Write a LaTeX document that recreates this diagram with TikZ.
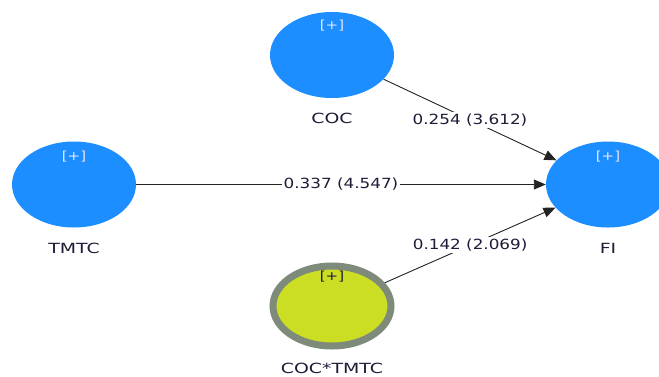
\documentclass[tikz,border=0pt]{standalone}
\usepackage{fontspec}
\setmainfont{DejaVu Sans}
\newfontfamily\lblfont[FakeStretch=1.2]{DejaVu Sans}
\newfontfamily\namefont[FakeStretch=1.35]{DejaVu Sans}
\usetikzlibrary{shapes.geometric,arrows.meta}
\definecolor{lvblue}{RGB}{28,142,255}
\definecolor{lvyellow}{RGB}{204,222,36}
\definecolor{lvring}{RGB}{126,138,122}
\definecolor{lvtext}{RGB}{30,28,55}
\definecolor{lvline}{RGB}{35,35,35}
\begin{document}
\begin{tikzpicture}[x=1pt,y=-1pt,
  latent/.style={ellipse,fill=lvblue,draw=none,minimum width=124pt,minimum height=86pt,inner sep=0pt},
  moderator/.style={ellipse,fill=lvyellow,draw=lvring,line width=7pt,minimum width=118pt,minimum height=80pt,inner sep=0pt},
  plus/.style={font=\lblfont\fontsize{12.5}{14}\selectfont,text=white!90!blue,inner sep=0pt},
  plusdark/.style={font=\lblfont\fontsize{12.5}{14}\selectfont,text=lvtext,inner sep=0pt},
  cname/.style={font=\namefont\fontsize{14}{16}\selectfont,text=lvtext,inner sep=0pt},
  pathline/.style={draw=lvline,line width=0.9pt,-{Triangle[length=12pt,width=10pt]}},
  coef/.style={font=\lblfont\fontsize{14}{16}\selectfont,text=lvtext,fill=white,inner xsep=2pt,inner ysep=2pt}
]
\useasboundingbox[fill=white] (0,0) rectangle (659,376);

% constructs
\node[latent] (coc) at (332,55) {};
\node[latent] (tmtc) at (74,184.5) {};
\node[latent] (fi) at (608,184.5) {};
\node[moderator] (int) at (332,306) {};

% expand markers
\node[plus] (cocp) at (332,26) {[+]};
\node[plus] (tmtcp) at (74,157) {[+]};
\node[plus] (fip) at (608,157) {[+]};
\node[plusdark] (intp) at (332,277) {[+]};

% construct names
\node[cname] (cocn) at (332,118) {COC};
\node[cname] (tmtcn) at (74,248) {TMTC};
\node[cname] (fin) at (608,248) {FI};
\node[cname] (intn) at (332,368) {COC*TMTC};

% structural paths with coefficients (t values)
\draw[pathline] (coc) -- node[coef] (c1) {0.254 (3.612)} (fi);
\draw[pathline] (tmtc) -- node[coef] (c2) {0.337 (4.547)} (fi);
\draw[pathline] (int) -- node[coef] (c3) {0.142 (2.069)} (fi);
\end{tikzpicture}
\end{document}
